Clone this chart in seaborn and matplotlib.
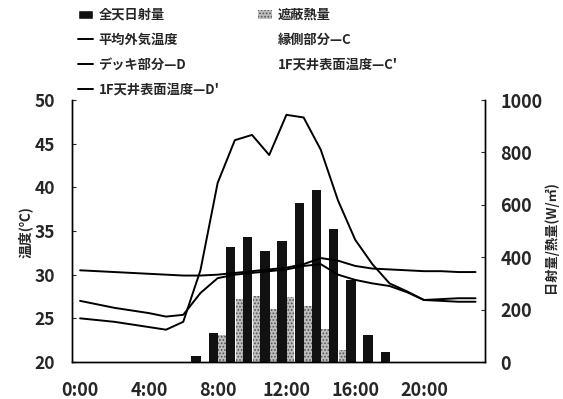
import numpy as np
import seaborn as sns
import matplotlib.pyplot as plt
from matplotlib.lines import Line2D
from matplotlib.patches import Patch

# hourly data, 0:00 .. 23:00
hours = list(range(24))
xtick_hours = [0, 4, 8, 12, 16, 20]
xtick_labels = ['0:00', '4:00', '8:00', '12:00', '16:00', '20:00']

# radiation / heat (W/m2)
global_rad = [0, 0, 0, 0, 0, 0, 0, 23, 110, 440, 478, 425, 463, 606,
              656, 509, 313, 103, 39, 0, 0, 0, 0, 0]
shield_heat = [0, 0, 0, 0, 0, 0, 0, 0, 103, 240, 252, 202, 249, 215,
               126, 46, 0, 0, 0, 0, 0, 0, 0, 0]

# temperatures (deg C)
outdoor = [27.0, 26.6, 26.2, 25.9, 25.6, 25.2, 25.4, 27.9, 29.6, 30.0, 30.2, 30.4,
           30.6, 31.0, 31.2, 30.0, 29.4, 29.0, 28.7, 28.0, 27.1, 27.2, 27.3, 27.3]
deck_d = [25.0, 24.8, 24.6, 24.3, 24.0, 23.7, 24.6, 30.5, 40.5, 45.4, 46.0, 43.7,
          48.3, 48.0, 44.3, 38.5, 34.0, 31.2, 29.0, 28.1, 27.1, 27.0, 26.9, 26.9]
ceiling_d = [30.5, 30.4, 30.3, 30.2, 30.1, 30.0, 29.9, 29.9, 30.0, 30.2, 30.4, 30.6,
             30.8, 31.2, 31.9, 31.6, 31.0, 30.7, 30.6, 30.5, 30.4, 30.4, 30.3, 30.3]

labels_left = ['全天日射量', '平均外気温度', 'デッキ部分—D', '1F天井表面温度—D\'']
labels_right = ['遮蔽熱量', '縁側部分—C', '1F天井表面温度—C\'']

sns.set_style('ticks')
plt.rcParams['font.family'] = ['Noto Sans CJK JP', 'DejaVu Sans']
plt.rcParams['font.weight'] = 'bold'
plt.rcParams['hatch.linewidth'] = 0.8

fig = plt.figure(figsize=(5.63, 3.99), dpi=100)
ax = fig.add_axes([72 / 563, 37 / 399, 413 / 563, 262 / 399])
ax2 = ax.twinx()

h = np.array(hours)
ax2.bar(h - 0.25, global_rad, width=0.55, color='#111111', linewidth=0)
ax2.bar(h + 0.25, shield_heat, width=0.42, facecolor='#bdbdbd', hatch='.....',
        edgecolor='#555555', linewidth=0)

for series in [outdoor, deck_d, ceiling_d]:
    sns.lineplot(x=hours, y=series, ax=ax, color='black', linewidth=1.4, legend=False)

ax.set_zorder(2)
ax.patch.set_visible(False)

ax.set_xlim(-0.47, 23.55)
ax.set_ylim(20, 50)
ax2.set_ylim(0, 1000)
ax.set_yticks(range(20, 51, 5))
ax2.set_yticks(range(0, 1001, 200))
ax.set_xticks(xtick_hours)
ax.set_xticklabels(xtick_labels)

for a in (ax, ax2):
    a.spines['top'].set_visible(False)
    for s in ('left', 'right', 'bottom'):
        a.spines[s].set_color('black')
        a.spines[s].set_linewidth(1.0)
ax.tick_params(axis='y', direction='in', length=3, pad=12, labelsize=12.5)
ax.tick_params(axis='x', length=0, pad=14, labelsize=13)
ax2.tick_params(axis='y', direction='in', length=3, pad=11, labelsize=13)

fig.text(25 / 563, 1 - 232 / 399, '温度(℃)', rotation=90, ha='center', va='center',
         fontsize=10, fontweight='bold')
fig.text(551 / 563, 1 - 237 / 399, '日射量/熱量(W/㎡)', rotation=90, ha='center',
         va='center', fontsize=9.5, fontweight='bold')

handles = [Patch(facecolor='#111111'),
           Line2D([], [], color='black', lw=1.4),
           Line2D([], [], color='black', lw=1.4),
           Line2D([], [], color='black', lw=1.4),
           Patch(facecolor='#bdbdbd', hatch='.....', edgecolor='#555555', linewidth=0),
           Line2D([], [], color='none'),
           Line2D([], [], color='none')]
fig.legend(handles=handles, labels=labels_left + labels_right, ncol=2,
           loc='upper left', bbox_to_anchor=(78 / 563, 1 - 8 / 399),
           frameon=False, fontsize=9.5, handlelength=1.1, handletextpad=0.45,
           labelspacing=0.82, columnspacing=2.9, borderaxespad=0, borderpad=0)

fig.savefig('out.png', dpi=100)
